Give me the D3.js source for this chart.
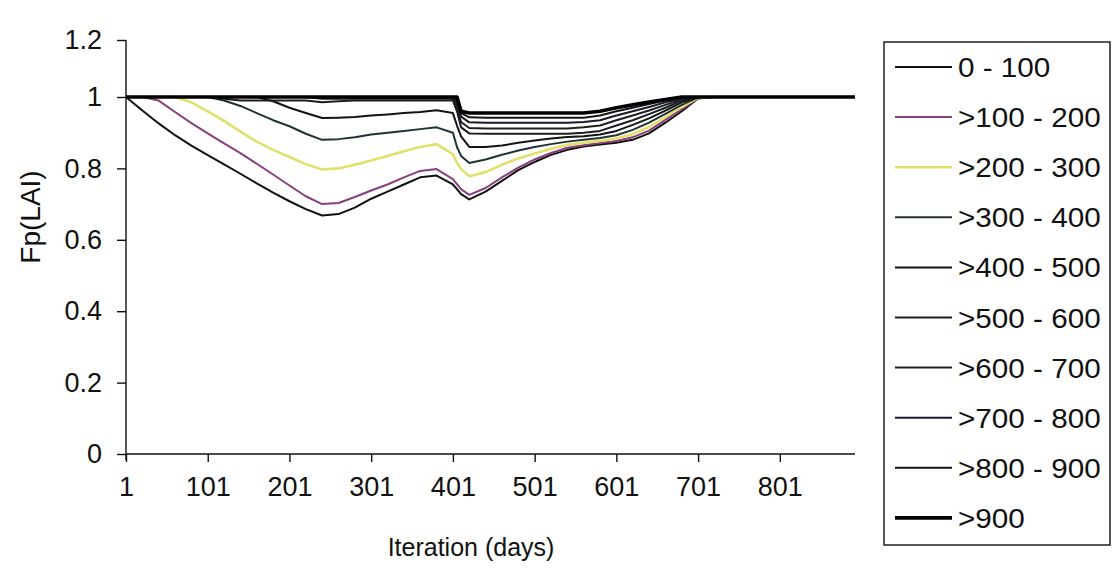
<!DOCTYPE html>
<html><head><meta charset="utf-8">
<script src="https://cdn.jsdelivr.net/npm/d3@7"></script>
<style>
body{margin:0;background:#fff;}
svg{display:block;}
text{font-family:"Liberation Sans",Arial,sans-serif;fill:#111;}
</style>
</head><body>
<svg id="c" width="1113" height="569"></svg>
<script>
// ---- data ----
const days = [1,21,41,61,81,101,121,141,161,181,201,221,241,261,281,301,321,341,361,381,401,406,411,421,441,461,481,501,521,541,561,581,601,621,641,661,681,701,721,801,893];
const seriesNames = ["0 - 100", ">100 - 200", ">200 - 300", ">300 - 400", ">400 - 500", ">500 - 600", ">600 - 700", ">700 - 800", ">800 - 900", ">900"];
const s1  = [1,0.962,0.926,0.893,0.864,0.837,0.811,0.785,0.758,0.732,0.708,0.686,0.668,0.672,0.69,0.715,0.735,0.755,0.775,0.78,0.755,0.742,0.728,0.713,0.735,0.765,0.795,0.818,0.838,0.852,0.861,0.867,0.872,0.88,0.898,0.928,0.96,0.996,1,1,1];
const s2  = [1,1,0.99,0.958,0.927,0.898,0.87,0.843,0.813,0.783,0.752,0.722,0.7,0.703,0.72,0.738,0.755,0.775,0.793,0.798,0.77,0.756,0.742,0.726,0.745,0.775,0.802,0.825,0.843,0.858,0.865,0.871,0.877,0.887,0.906,0.936,0.966,0.997,1,1,1];
const s3  = [1,1,1,1,0.985,0.96,0.933,0.903,0.875,0.852,0.832,0.812,0.797,0.8,0.81,0.822,0.835,0.848,0.86,0.868,0.84,0.815,0.798,0.778,0.79,0.81,0.828,0.842,0.855,0.866,0.872,0.877,0.884,0.896,0.916,0.944,0.972,0.998,1,1,1];
const s4  = [1,1,1,1,1,1,0.99,0.975,0.955,0.935,0.918,0.897,0.88,0.882,0.887,0.895,0.9,0.905,0.91,0.915,0.9,0.86,0.835,0.815,0.825,0.838,0.85,0.86,0.868,0.875,0.88,0.885,0.893,0.908,0.928,0.953,0.978,0.999,1,1,1];
const s5  = [1,1,1,1,1,1,1,1,1,0.988,0.97,0.955,0.941,0.942,0.944,0.948,0.951,0.955,0.958,0.963,0.955,0.92,0.89,0.86,0.86,0.864,0.872,0.878,0.884,0.888,0.89,0.895,0.905,0.922,0.94,0.962,0.985,1,1,1,1];
const s6  = [1,1,1,1,1,1,0.995,0.99,0.99,0.99,0.99,0.99,0.985,0.988,0.99,0.99,0.99,0.99,0.99,0.99,0.99,0.96,0.915,0.898,0.897,0.897,0.897,0.897,0.897,0.897,0.9,0.905,0.92,0.935,0.952,0.97,0.99,1,1,1,1];
const s7  = [1,1,1,1,1,1,1,1,1,1,1,1,0.995,0.995,0.995,0.995,0.995,0.995,0.995,0.995,0.995,0.97,0.93,0.913,0.912,0.912,0.912,0.912,0.912,0.912,0.915,0.92,0.935,0.948,0.962,0.978,0.993,1,1,1,1];
const s8  = [1,1,1,1,1,1,1,1,1,1,1,1,1,1,1,1,1,1,1,1,0.998,0.98,0.945,0.929,0.928,0.928,0.928,0.928,0.928,0.928,0.93,0.935,0.948,0.96,0.972,0.985,0.996,1,1,1,1];
const s9  = [1,1,1,1,1,1,1,1,1,1,1,1,1,1,1,1,1,1,1,1,1,0.99,0.955,0.943,0.942,0.942,0.942,0.942,0.942,0.942,0.942,0.948,0.96,0.97,0.98,0.99,0.998,1,1,1,1];
const s10 = [1,1,1,1,1,1,1,1,1,1,1,1,1,1,1,1,1,1,1,1,1,1,0.96,0.955,0.955,0.955,0.955,0.955,0.955,0.955,0.955,0.96,0.97,0.978,0.986,0.993,1,1,1,1,1];
const seriesValues = [s1,s2,s3,s4,s5,s6,s7,s8,s9,s10];
const xTickValues = [1,101,201,301,401,501,601,701,801];
const yTickValues = [0,0.2,0.4,0.6,0.8,1,1.2];

// ---- styles ----
const colors = ["#111111","#86407c","#e2e06a","#1e3434","#141414","#1c1c24","#202020","#1a1a2a","#161616","#000000"];
const widths = [2,2,2.6,2,2,2,2,2,2,3.6];

const svg = d3.select("#c");
const x = d3.scaleLinear().domain([1, 893]).range([126, 855]);
const y = d3.scaleLinear().domain([0, 1, 1.2]).range([454, 97, 40]);

// axes
const xAxis = svg.append("g").attr("transform", `translate(0,${y(0)})`)
  .call(d3.axisBottom(x).tickValues(xTickValues).tickFormat(d3.format("d")).tickSize(8).tickPadding(15));
xAxis.select(".domain").attr("d", `M${x(1)},0H${x(893)}`);
const yAxis = svg.append("g").attr("transform", `translate(${x(1)},0)`)
  .call(d3.axisLeft(y).tickValues(yTickValues).tickFormat(d => d === 0 ? "0" : d3.format("~g")(d)).tickSize(9).tickPadding(15));
yAxis.select(".domain").attr("d", `M0,${y(1.2)}V${y(0) + 6}`);
[xAxis, yAxis].forEach(g => {
  g.selectAll("path,line").attr("stroke", "#111").attr("stroke-width", 1.4);
  g.selectAll("text").attr("font-size", 27).attr("font-family", "Liberation Sans, Arial, sans-serif").attr("fill", "#111");
});

// lines
const line = d3.line().x((d, i) => x(days[i])).y(d => y(d));
svg.append("g").selectAll("path").data(seriesValues).join("path")
  .attr("d", d => line(d))
  .attr("fill", "none")
  .attr("stroke", (d, i) => colors[i])
  .attr("stroke-width", (d, i) => widths[i])
  .attr("stroke-linejoin", "round");

// axis titles
svg.append("text").attr("x", 471).attr("y", 556).attr("text-anchor", "middle").attr("font-size", 25).text("Iteration (days)");
svg.append("text").attr("transform", "translate(40,217) rotate(-90)").attr("text-anchor", "middle").attr("font-size", 28).text("Fp(LAI)");

// legend
const lg = svg.append("g");
lg.append("rect").attr("x", 884).attr("y", 42).attr("width", 226).attr("height", 503)
  .attr("fill", "#fff").attr("stroke", "#111").attr("stroke-width", 1.4);
const items = lg.selectAll("g.it").data(seriesNames).join("g").attr("class", "it")
  .attr("transform", (d, i) => `translate(0,${67 + i * 50.1})`);
items.append("line").attr("x1", 895).attr("x2", 952).attr("y1", 0).attr("y2", 0)
  .attr("stroke", (d, i) => colors[i]).attr("stroke-width", (d, i) => widths[i]);
items.append("text").attr("x", 958).attr("dy", "0.36em").attr("font-size", 28)
  .attr("transform", "translate(958,0) scale(1.06,1) translate(-958,0)").text(d => d);
</script>
</body></html>
